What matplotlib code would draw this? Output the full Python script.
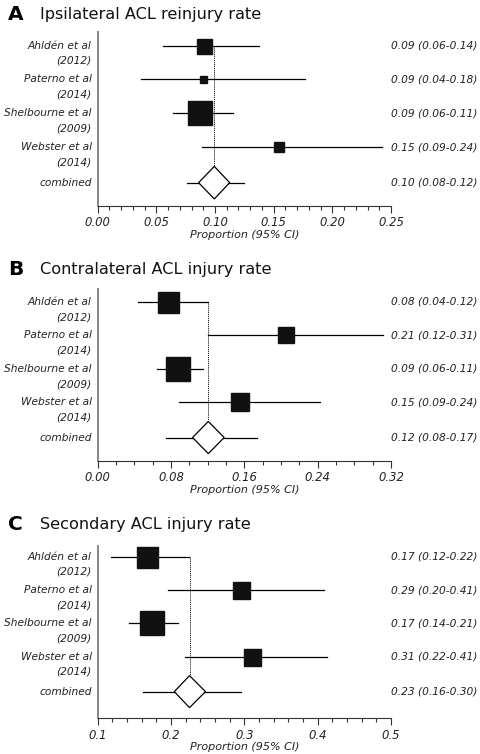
import matplotlib.pyplot as plt
from matplotlib.patches import Polygon
from matplotlib.ticker import MultipleLocator

studies = ["Ahldén et al", "Paterno et al", "Shelbourne et al", "Webster et al"]
years = ["(2012)", "(2014)", "(2009)", "(2014)"]

# panel A - ipsilateral
a_est = [0.0906, 0.090, 0.0875, 0.1548]
a_lo = [0.0554, 0.037, 0.0645, 0.0892]
a_hi = [0.1377, 0.1766, 0.115, 0.2426]
a_comb = [0.0994, 0.086, 0.1125, 0.0764, 0.125]  # centre, diamond lo/hi, CI lo/hi
a_text = ["0.09 (0.06-0.14)", "0.09 (0.04-0.18)", "0.09 (0.06-0.11)",
          "0.15 (0.09-0.24)", "0.10 (0.08-0.12)"]

# panel B - contralateral
b_est = [0.0764, 0.2052, 0.0874, 0.155]
b_lo = [0.0436, 0.1207, 0.0644, 0.089]
b_hi = [0.1207, 0.3116, 0.1145, 0.2425]
b_comb = [0.1207, 0.1035, 0.138, 0.0745, 0.1742]
b_text = ["0.08 (0.04-0.12)", "0.21 (0.12-0.31)", "0.09 (0.06-0.11)",
          "0.15 (0.09-0.24)", "0.12 (0.08-0.17)"]

# panel C - secondary
c_est = [0.1666, 0.295, 0.1743, 0.31]
c_lo = [0.1182, 0.1963, 0.1431, 0.2195]
c_hi = [0.2250, 0.409, 0.210, 0.4127]
c_comb = [0.2252, 0.2045, 0.247, 0.1613, 0.2958]
c_text = ["0.17 (0.12-0.22)", "0.29 (0.20-0.41)", "0.17 (0.14-0.21)",
          "0.31 (0.22-0.41)", "0.23 (0.16-0.30)"]

fig = plt.figure(figsize=(4.8, 7.54), dpi=100)
W, H = 480.0, 754.0


def panel(letter, title, est, lo, hi, comb, txt, box_px, top, bot, title_y,
          xlim, major, minor, fmt, ylim):
    ax = fig.add_axes([97.7 / W, 1 - bot / H, 293.3 / W, (bot - top) / H])
    rows = [0, 1, 2, 3]
    crow = 4.05
    c, dlo, dhi, clo, chi = comb
    h = 0.48
    # dotted line at pooled estimate
    ax.plot([c, c], [0, crow - h], color="black", lw=0.7, ls=(0, (1, 1)), zorder=1)
    for i in rows:
        ax.plot([lo[i], hi[i]], [i, i], color="black", lw=0.9, zorder=2)
        ax.plot(est[i], i, marker="s", ms=box_px[i] * 0.72, color="#111111",
                mec="#111111", zorder=3)
    ax.plot([clo, chi], [crow, crow], color="black", lw=0.9, zorder=2)
    ax.add_patch(Polygon([[dlo, crow], [c, crow - h], [dhi, crow], [c, crow + h]],
                         closed=True, fc="white", ec="black", lw=0.9, zorder=3))

    for i in rows:
        ax.annotate(studies[i], xy=(0, i), xycoords=("axes fraction", "data"),
                    xytext=(-4.2, 0), textcoords="offset points", ha="right",
                    va="center", fontsize=7.7, style="italic", color="#222222")
        ax.annotate(years[i], xy=(0, i), xycoords=("axes fraction", "data"),
                    xytext=(-4.2, -11), textcoords="offset points", ha="right",
                    va="center", fontsize=7.7, style="italic", color="#222222")
    for i, t in enumerate(txt):
        yy = i if i < 4 else crow
        ax.annotate(t, xy=(1.293, yy), xycoords=("axes fraction", "data"),
                    ha="right", va="center", fontsize=7.7, style="italic",
                    color="#222222")
    ax.annotate("combined", xy=(0, crow), xycoords=("axes fraction", "data"),
                xytext=(-4.2, 0), textcoords="offset points", ha="right",
                va="center", fontsize=7.7, style="italic", color="#222222")

    ax.set_xlim(*xlim)
    ax.set_ylim(*ylim)
    ax.xaxis.set_major_locator(MultipleLocator(major))
    ax.xaxis.set_minor_locator(MultipleLocator(minor))
    ax.set_xticklabels([fmt.format(v) for v in ax.get_xticks()])
    ax.set_yticks([])
    for lab in ax.get_xticklabels():
        lab.set_fontstyle("italic")
    ax.tick_params(axis="x", which="major", length=5, width=0.8, labelsize=8.4,
                   pad=2.5, colors="#333333", labelcolor="#222222")
    ax.tick_params(axis="x", which="minor", length=3, width=0.8, colors="#333333")
    ax.set_xlabel("Proportion (95% CI)", fontsize=8, style="italic",
                  color="#222222", labelpad=0.5)
    for s in ["top", "right"]:
        ax.spines[s].set_visible(False)
    ax.spines["left"].set_color("#888888")
    ax.spines["left"].set_linewidth(1.4)
    ax.spines["bottom"].set_color("#333333")
    ax.spines["bottom"].set_linewidth(0.8)

    fig.text(8 / W, 1 - title_y / H, letter, fontsize=14.5, fontweight="bold",
             va="center", ha="left")
    fig.text(40 / W, 1 - title_y / H, title, fontsize=11.6, va="center", ha="left",
             color="#111111")
    return ax


panel("A", "Ipsilateral ACL reinjury rate", a_est, a_lo, a_hi, a_comb, a_text,
      [15, 7, 24, 10], 32, 205.7, 15, (0, 0.25), 0.05, 0.01, "{:.2f}",
      (4.73, -0.4))
panel("B", "Contralateral ACL injury rate", b_est, b_lo, b_hi, b_comb, b_text,
      [21, 16, 24, 18], 289, 461, 269, (0, 0.32), 0.08, 0.02, "{:.2f}",
      (4.75, -0.38))
panel("C", "Secondary ACL injury rate", c_est, c_lo, c_hi, c_comb, c_text,
      [21, 17, 24, 17], 545.7, 718.3, 525, (0.1, 0.5), 0.1, 0.02, "{:.1f}",
      (4.85, -0.33))

fig.savefig("out.png", dpi=100)
